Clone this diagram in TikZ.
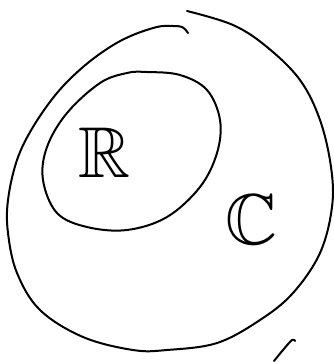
\documentclass[tikz,border=0pt]{standalone}
\usepackage{amsmath,amssymb}
\usepackage{tikz}
\usetikzlibrary{calc}

\begin{document}
\begin{tikzpicture}[x=1pt,y=-1pt,
  pen/.style={line width=2pt,line cap=round,line join=round},
  letter/.style={inner sep=0pt,font=\fontsize{72}{72}\selectfont}]
  \useasboundingbox (0,0) rectangle (334,362);
  % outer set (complex numbers)
  \draw[pen] plot[smooth,tension=0.6] coordinates {
     (188,33) (182,27) (170,26) (157,27) (133,35) (110,47) (83,67) (57,93)
     (33,127) (17,160) (8,200) (8,233) (17,273) (40,310) (83,337) (133,350)
     (167,350) (217,343) (260,320) (293,293) (320,253) (332,207) (331,167)
     (320,120) (300,80) (267,47) (233,25) (187,11)};
  % inner set (real numbers)
  \draw[pen] plot[smooth cycle,tension=0.6] coordinates {
     (147,72) (180,75) (207,90) (220,120) (217,153) (200,187) (167,217)
     (127,230) (87,227) (57,213) (43,180) (47,147) (67,113) (100,83) (127,73)};
  % stray stroke bottom right
  \draw[pen] plot[smooth,tension=0.6] coordinates {(274,361) (283,350) (292,340) (295,341)};
  % labels
  \node[letter] (realset) at (104,153) {$\mathbb{R}$};
  \node[letter] (complexset) at (251,220) {$\mathbb{C}$};
\end{tikzpicture}
\end{document}
